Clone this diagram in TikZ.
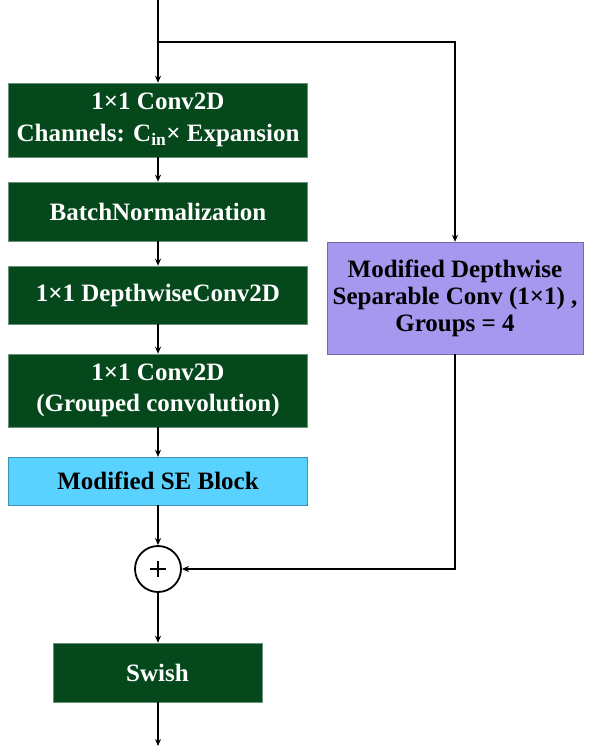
\documentclass[tikz,border=0pt]{standalone}
\usepackage{fontspec}
\setmainfont{Liberation Serif}
\usetikzlibrary{arrows.meta}
\definecolor{dgreen}{RGB}{5,72,28}
\definecolor{lblue}{RGB}{90,210,255}
\definecolor{lpurple}{RGB}{166,152,238}
\begin{document}
\begin{tikzpicture}[x=1pt,y=-1pt,
  every node/.style={font=\bfseries\fontsize{25}{31}\selectfont, align=center, inner sep=0pt},
  gbox/.style={fill=dgreen, draw=dgreen!60!white, line width=0.6pt, text=white, minimum width=299pt},
  arr/.style={line width=1.8pt, -{Stealth[length=7pt,width=6pt]}},
  ln/.style={line width=1.8pt}]
\useasboundingbox (0,0) rectangle (590,751);
\node[gbox, minimum height=74pt] (b1) at (158,120) {1×1 Conv2D\\[1pt]Channels: C\textsubscript{in}× Expansion};
\node[gbox, minimum height=59pt] (b2) at (158,211.5) {BatchNormalization};
\node[gbox, minimum height=58pt] (b3) at (158,295) {1×1 DepthwiseConv2D};
\node[gbox, minimum height=73pt] (b4) at (158,390.5) {1×1 Conv2D\\(Grouped convolution)};
\node[fill=lblue, draw=lblue!70!black, line width=0.4pt, minimum width=299pt, minimum height=48pt, text=black] (b5) at (158,481) {Modified SE Block};
\node[circle, draw, line width=1.8pt, minimum size=46pt, font=\fontsize{30}{30}\selectfont] (add) at (158,569) {};
\draw[line width=1.4pt] ([xshift=-8pt]add.center) -- ([xshift=8pt]add.center) ([yshift=-8pt]add.center) -- ([yshift=8pt]add.center);
\node[gbox, minimum width=209pt, minimum height=59pt] (sw) at (157.5,672.5) {Swish};
\node[fill=lpurple, draw=lpurple!70!black, line width=0.4pt, minimum width=256pt, minimum height=112pt, text=black, font=\bfseries\fontsize{25}{27}\selectfont] (dw) at (455,298) {Modified Depthwise\\Separable Conv (1×1) ,\\Groups = 4};
\coordinate (top) at (158,0);
\coordinate (split) at (158,42);
\coordinate (rt) at (455,42);
\coordinate (rb) at (455,569);
\coordinate (out) at (158,746);
\draw[arr] (top) -- (b1.north);
\draw[arr] (split) -- (rt) -- (dw.north);
\draw[arr] (b1) -- (b2);
\draw[arr] (b2) -- (b3);
\draw[arr] (b3) -- (b4);
\draw[arr] (b4) -- (b5);
\draw[arr] (b5) -- (add);
\draw[arr] (dw.south) -- (rb) -- (add.east);
\draw[arr] (add) -- (sw.north -| add);
\draw[arr] (sw.south -| add) -- (out);
\end{tikzpicture}
\end{document}
